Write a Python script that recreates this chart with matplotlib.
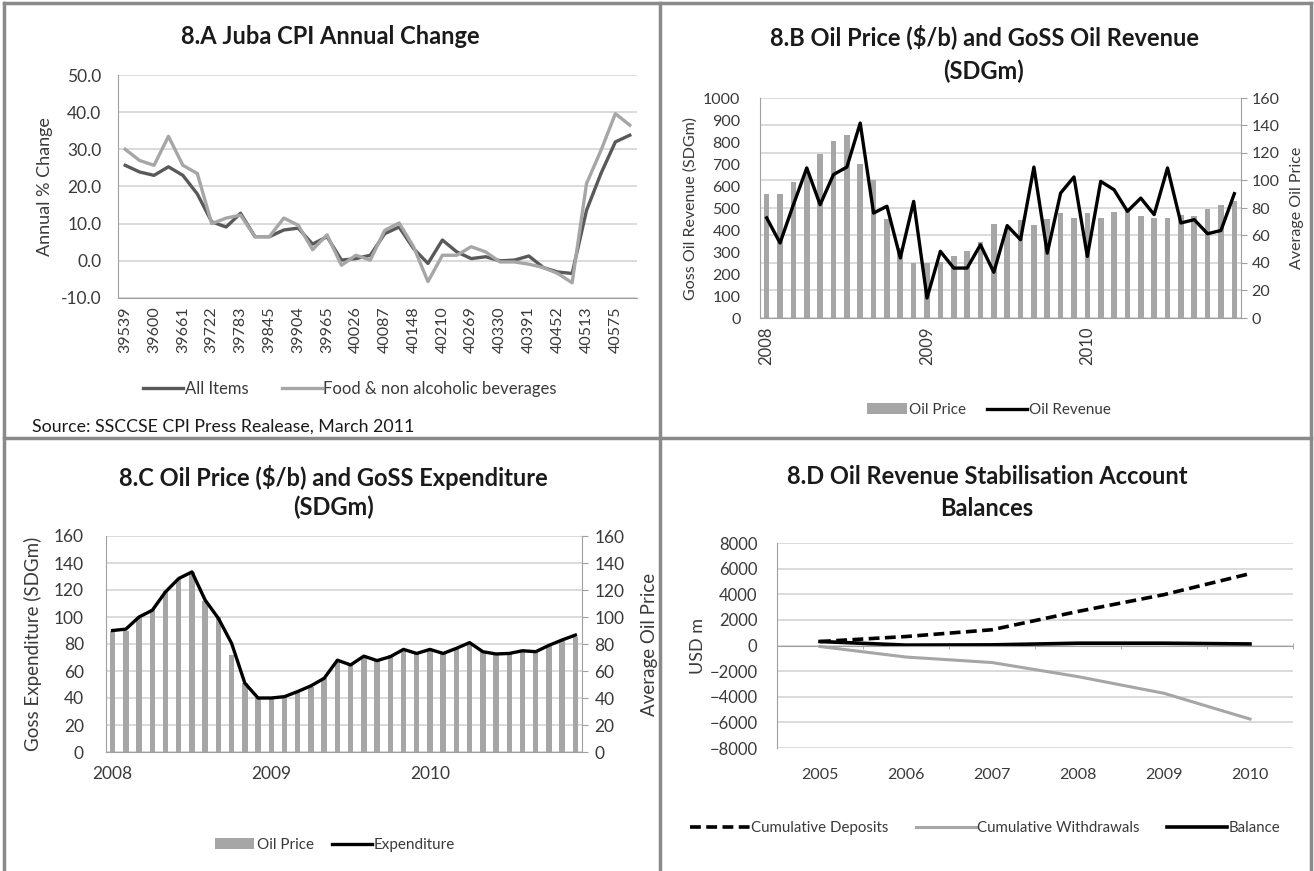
import matplotlib
matplotlib.use("Agg")
import matplotlib.pyplot as plt
from matplotlib.lines import Line2D
import numpy as np

plt.rcParams['font.family'] = ['Lato', 'DejaVu Sans']

# 8.A Juba CPI, Excel date serials (monthly, Apr 2008 - Mar 2011)
cpi_months = [39539, 39569, 39600, 39630, 39661, 39692, 39722, 39753, 39783, 39814,
              39845, 39873, 39904, 39934, 39965, 39995, 40026, 40057, 40087, 40118,
              40148, 40179, 40210, 40238, 40269, 40299, 40330, 40360, 40391, 40422,
              40452, 40483, 40513, 40544, 40575, 40603]
all_items = [25.7, 23.9, 23.0, 25.3, 23.0, 18.0, 10.5, 9.1, 12.8, 6.5,
             6.5, 8.3, 8.8, 4.5, 6.5, 0.2, 0.6, 1.5, 7.3, 9.1,
             3.3, -0.7, 5.6, 2.4, 0.6, 1.1, 0.0, 0.2, 1.3, -1.8,
             -3.0, -3.4, 13.6, 23.5, 32.0, 33.8]
food = [30.0, 27.0, 25.7, 33.5, 25.7, 23.5, 10.0, 11.5, 12.3, 6.5,
        6.5, 11.5, 9.6, 3.0, 7.0, -1.2, 1.5, 0.2, 8.2, 10.2,
        3.8, -5.6, 1.5, 1.5, 3.8, 2.4, -0.3, -0.3, -0.9, -1.8,
        -3.4, -5.9, 20.8, 29.7, 39.6, 36.5]

# 8.B / 8.C monthly Jan 2008 - Dec 2010
year_labels = ['2008', '2009', '2010']
oil_price = [90, 90, 99, 106, 119, 128.5, 133.4, 112, 100, 72, 51, 40,
             40, 41, 44.8, 48.5, 55, 68, 64.5, 71, 67.7, 72, 76, 73,
             76, 73, 77, 80, 74.3, 73, 73, 75, 74.3, 79, 82, 85]
oil_revenue = [455, 341, 515, 682, 515, 652, 686, 886, 477, 508, 273, 530,
               91, 303, 227, 227, 333, 208, 420, 356, 686, 295, 568, 641,
               280, 621, 583, 485, 545, 470, 682, 432, 447, 383, 398, 565]
expenditure = [90, 91, 100, 105, 118.6, 128.5, 133.4, 112.5, 99, 80.5, 51, 40,
               40, 41, 44.8, 49, 54.6, 68, 64.5, 71, 67.7, 70.6, 76, 73,
               76, 73, 76.8, 81, 74.3, 72.6, 73, 75, 74.3, 79, 83, 86.6]

# 8.D stabilisation account
d_years = ['2005', '2006', '2007', '2008', '2009', '2010']
deposits = [310, 700, 1230, 2660, 3970, 5610]
withdrawals = [-80, -900, -1330, -2430, -3730, -5740]
balance = [310, 30, 50, 180, 180, 120]

W, H = 1314, 871
fig = plt.figure(figsize=(W / 100, H / 100), dpi=100)

DARK = '#595959'
LIGHT = '#a6a6a6'
GRID = '#d4d4d4'
AXC = '#a0a0a0'
TXT = '#3a3a3a'
TITLE = '#1a1a1a'


def px_axes(l, t, r, b):
    ax = fig.add_axes([l / W, 1 - b / H, (r - l) / W, (b - t) / H])
    ax._px = (l, t, r, b)
    return ax


def fx(x):
    return x / W


def fy(y):
    return 1 - y / H


def ylabel_at(ax, text, xpx, size):
    l, t, r, b = ax._px
    ax.yaxis.set_label_text(text, fontsize=size, color=TXT, va='center', ha='center')
    ax.yaxis.set_label_coords((xpx - l) / (r - l), 0.5)


def style(ax, size):
    ax.grid(axis='y', color=GRID, lw=1.2)
    ax.set_axisbelow(True)
    for s in ['top', 'right']:
        ax.spines[s].set_visible(False)
    ax.spines['left'].set_color(AXC)
    ax.spines['bottom'].set_color(AXC)
    ax.tick_params(colors=AXC, labelcolor=TXT, labelsize=size)


def title(x, y, text):
    fig.text(fx(x), fy(y), text, ha='center', va='center', fontsize=17,
             fontweight='bold', color=TITLE)


# ---------- 8.A ----------
axA = px_axes(118, 75, 637, 298)
xa = np.arange(len(cpi_months))
axA.plot(xa, all_items, color=DARK, lw=2.4, label='All Items')
axA.plot(xa, food, color=LIGHT, lw=2.4, label='Food & non alcoholic beverages')
axA.set_xlim(-0.5, len(cpi_months) - 0.5)
axA.set_ylim(-10, 50)
axA.set_yticks(np.arange(-10, 51, 10))
axA.set_yticklabels([f'{v:.1f}' for v in np.arange(-10, 51, 10)])
axA.set_xticks(xa[::2])
axA.set_xticklabels([str(v) for v in cpi_months[::2]], rotation=90)
style(axA, 12.5)
axA.tick_params(axis='x', length=0, pad=6, labelsize=11.5)
axA.tick_params(axis='y', length=0, pad=12)
ylabel_at(axA, 'Annual % Change', 45, 13)
title(330, 37, '8.A Juba CPI Annual Change')
fig.legend(*axA.get_legend_handles_labels(), loc='center', bbox_to_anchor=(fx(350), fy(389)),
           ncol=2, frameon=False, fontsize=12, handlelength=2.4, columnspacing=2.0,
           handletextpad=0.1, labelcolor=TXT)
fig.text(fx(32), fy(427), 'Source: SSCCSE CPI Press Realease, March 2011', ha='left',
         va='center', fontsize=12.8, color=TITLE)

# ---------- 8.B ----------
axB = px_axes(760, 98, 1241, 318)
axB2 = axB.twinx()
axB2._px = axB._px
xb = np.arange(len(oil_revenue))
axB2.bar(xb, oil_price, width=0.42, color=LIGHT, label='Oil Price', zorder=1)
axB.plot(xb, oil_revenue, color='black', lw=2.4, label='Oil Revenue', zorder=3)
axB.set_zorder(axB2.get_zorder() + 1)
axB.patch.set_visible(False)
axB.set_ylim(0, 1000)
axB.set_yticks(np.arange(0, 1001, 100))
axB2.set_ylim(0, 160)
axB2.set_yticks(np.arange(0, 161, 20))
axB.set_xlim(-0.5, len(oil_revenue) - 0.5)
axB2.grid(axis='y', color=GRID, lw=1.2)
axB2.set_axisbelow(True)
style(axB, 11.5)
axB.grid(False)
axB.set_xticks([0, 12, 24])
axB.set_xticklabels(year_labels, rotation=90)
axB.tick_params(axis='x', length=0, pad=6, labelsize=12)
axB.tick_params(axis='y', length=0, pad=14)
for s in ['top', 'left', 'bottom']:
    axB2.spines[s].set_visible(False)
axB2.spines['right'].set_color(AXC)
axB2.tick_params(colors=AXC, labelcolor=TXT, labelsize=11.5, length=4)
ylabel_at(axB, 'Goss Oil Revenue (SDGm)', 691, 11.5)
ylabel_at(axB2, 'Average Oil Price', 1297, 11.5)
title(984, 37, '8.B Oil Price ($/b) and GoSS Oil Revenue')
title(984, 71, '(SDGm)')
hB = axB2.get_legend_handles_labels()
hL = axB.get_legend_handles_labels()
fig.legend(hB[0] + hL[0], hB[1] + hL[1], loc='center', bbox_to_anchor=(fx(989), fy(410)),
           ncol=2, frameon=False, fontsize=11, handlelength=2.6, columnspacing=1.4,
           handletextpad=0.15, labelcolor=TXT)

# ---------- 8.C ----------
axC = px_axes(106, 536, 582, 752)
axC2 = axC.twinx()
axC2._px = axC._px
xc = np.arange(len(expenditure))
axC2.bar(xc, oil_price, width=0.42, color=LIGHT, label='Oil Price', zorder=1)
axC.plot(xc, expenditure, color='black', lw=2.4, label='Expenditure', zorder=3)
axC.set_zorder(axC2.get_zorder() + 1)
axC.patch.set_visible(False)
axC.set_ylim(0, 160)
axC.set_yticks(np.arange(0, 161, 20))
axC2.set_ylim(0, 160)
axC2.set_yticks(np.arange(0, 161, 20))
axC.set_xlim(-0.5, len(expenditure) - 0.5)
axC2.grid(axis='y', color=GRID, lw=1.2)
axC2.set_axisbelow(True)
style(axC, 12.5)
axC.grid(False)
axC.set_xticks([0, 12, 24])
axC.set_xticklabels(year_labels)
axC.tick_params(axis='x', length=0, pad=10, labelsize=12.5)
axC.tick_params(axis='y', length=0, pad=16)
for s in ['top', 'left', 'bottom']:
    axC2.spines[s].set_visible(False)
axC2.spines['right'].set_color(AXC)
axC2.tick_params(colors=AXC, labelcolor=TXT, labelsize=12.5, length=4, pad=5)
ylabel_at(axC, 'Goss Expenditure (SDGm)', 33, 13.5)
ylabel_at(axC2, 'Average Oil Price', 649, 13.5)
title(333, 477, '8.C Oil Price ($/b) and GoSS Expenditure')
title(333, 507, '(SDGm)')
hB = axC2.get_legend_handles_labels()
hL = axC.get_legend_handles_labels()
fig.legend(hB[0] + hL[0], hB[1] + hL[1], loc='center', bbox_to_anchor=(fx(335), fy(845)),
           ncol=2, frameon=False, fontsize=11, handlelength=2.6, columnspacing=1.2,
           handletextpad=0.15, labelcolor=TXT)

# ---------- 8.D ----------
axD = px_axes(777, 543, 1293, 748)
xd = np.arange(len(d_years))
axD.plot(xd, deposits, color='black', lw=2.6, ls=(0, (3, 1.5)), label='Cumulative Deposits')
axD.plot(xd, withdrawals, color=LIGHT, lw=2.2, label='Cumulative Withdrawals')
axD.plot(xd, balance, color='black', lw=2.6, label='Balance')
axD.set_ylim(-8000, 8000)
axD.set_yticks(np.arange(-8000, 8001, 2000))
axD.set_xlim(-0.5, len(d_years) - 0.5)
style(axD, 12)
axD.spines['bottom'].set_position(('data', 0))
axD.set_xticks(xd)
axD.set_xticklabels(d_years)
axD.set_xticks(np.arange(0.5, len(d_years), 1), minor=True)
axD.tick_params(axis='x', which='major', length=0, pad=88, labelsize=11.5)
axD.tick_params(axis='x', which='minor', length=4, direction='inout', colors=AXC)
axD.tick_params(axis='y', length=0, pad=14)
ylabel_at(axD, 'USD m', 698, 13)
title(987, 476, '8.D Oil Revenue Stabilisation Account')
title(987, 508, 'Balances')
fig.legend(*axD.get_legend_handles_labels(), loc='center', bbox_to_anchor=(fx(985), fy(828)),
           ncol=3, frameon=False, fontsize=10.8, handlelength=4, columnspacing=1.8,
           handletextpad=0.1, labelcolor=TXT)

# panel frames
BORDER = '#8a8a8a'
for (x0, y0, x1, y1) in [(4, 3, 1311, 3), (4, 3, 4, 871), (1311, 3, 1311, 871),
                         (660, 3, 660, 871), (4, 438, 1311, 438)]:
    fig.add_artist(Line2D([fx(x0), fx(x1)], [fy(y0), fy(y1)], color=BORDER, lw=2.5))

fig.savefig('out.png', dpi=100)
